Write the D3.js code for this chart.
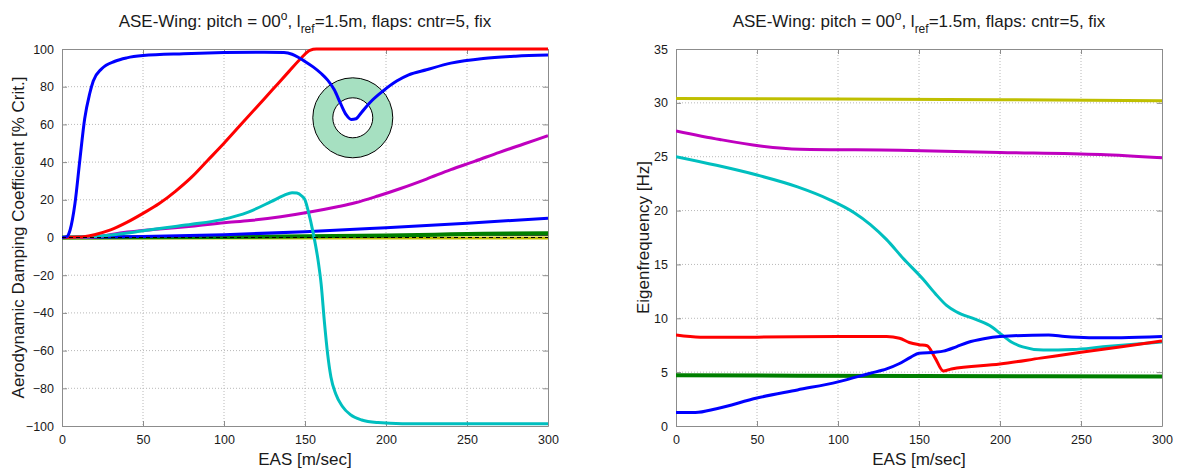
<!DOCTYPE html>
<html>
<head>
<meta charset="utf-8">
<script src="https://cdn.jsdelivr.net/npm/d3@7"></script>
<style>
  html, body { margin: 0; padding: 0; background: #fff; }
  svg { display: block; font-family: "Liberation Sans", Arial, Helvetica, sans-serif; }
</style>
</head>
<body>
<svg id="chart" width="1178" height="469"></svg>
<script>
// ---------------- DATA ----------------
const xTicks = [0, 50, 100, 150, 200, 250, 300];
const dampTicks = [-100, -80, -60, -40, -20, 0, 20, 40, 60, 80, 100];
const freqTicks = [0, 5, 10, 15, 20, 25, 30, 35];

// Left: aerodynamic damping coefficient [% crit.] vs EAS [m/sec]
const dampBlueA = [[0,0],[3,0.5],[5,4],[8,18],[11,41],[14,63],[17,76],[19.3,83],[24.5,89.5],[32.7,93.5],[40,95.3],[50,96.5],[75,97.5],[100,98.1],[125,98.3],[137,98.1],[142,97.2],[146,95.5],[150,93.4],[155,90.5],[160,87],[164,83.5],[168,78.5],[172,71],[175.5,65],[178.5,62.6],[181.5,63],[185,66.5],[190,71.5],[198,77.6],[206.6,83],[214,86.3],[225,89],[240,92.5],[260,95],[280,96.2],[300,96.8]];
const dampGreen = [[0,0],[100,0.3],[200,1],[230,1.5],[260,2],[300,2.2]];
const dampRed = [[0,0],[10,0.2],[20,1.5],[30,4],[40,8],[50,12.8],[60,18],[70,24.5],[80,32],[90,41],[100,50],[110,59.5],[120,69],[130,78.5],[140,88],[148,95.5],[153,99.3],[157,100],[300,100]];
const dampCyan = [[0,0],[20,0.5],[35,1.8],[49,3.4],[65,5.3],[80,7],[98.6,9.5],[115,13.5],[129,19],[137,22.3],[142,23.8],[145,23.6],[148,22],[150,20],[152,14],[155,2.6],[158,-11.7],[160,-25],[162,-45],[164,-62],[166,-74],[169,-83],[173,-89.5],[178,-94],[185,-96.8],[195,-98.2],[210,-98.8],[300,-98.8]];
const dampMagenta = [[0,0],[20,0.3],[37,2.5],[60,4.5],[80,6],[100,7.8],[116,9],[135,11],[153,13.5],[170,16.3],[181,18.4],[195,22],[209,26],[225,31],[240,36],[255,40.5],[270,45.2],[285,49.6],[300,54]];
const dampYellow = [[0,-0.3],[300,-0.3]];
const dampGray = [[0,0],[200,0.5],[240,1.4],[300,1.3]];
const dampBlueB = [[0,0],[50,0.5],[100,1.5],[150,3],[200,5.2],[250,7.6],[300,10.2]];
const dampZero = [[0,0],[300,0]];
const ringCenter = [179.5, 63.5];

// Right: eigenfrequency [Hz] vs EAS [m/sec]
const freqBlue = [[0,1.25],[12,1.25],[25,1.6],[50,2.6],[75,3.35],[100,4.1],[120,4.9],[130,5.3],[138,5.8],[145,6.4],[150,6.75],[160,6.85],[165,6.95],[173,7.35],[180,7.75],[190,8.1],[200,8.3],[230,8.45],[240,8.3],[255,8.2],[275,8.2],[300,8.3]];
const freqGreen = [[0,4.7],[150,4.65],[300,4.6]];
const freqRed = [[0,8.45],[15,8.25],[50,8.25],[100,8.3],[130,8.3],[138,8.15],[144,7.75],[150,7.55],[155,7.45],[160,6.3],[165,5.1],[170,5.3],[200,5.75],[225,6.3],[250,6.85],[275,7.35],[300,7.9]];
const freqCyan = [[0,25],[25,24.2],[50,23.3],[75,22.2],[95,21],[110,19.8],[120,18.7],[130,17.3],[140,15.6],[152.7,13.6],[160,12.3],[167,11.2],[173,10.6],[185,9.9],[195,9.2],[200,8.6],[207,7.8],[214,7.35],[226.7,7.05],[245,7.1],[263.6,7.35],[300,7.8]];
const freqMagenta = [[0,27.4],[27,26.6],[52,26],[76.5,25.7],[138,25.6],[200,25.4],[262,25.2],[300,24.9]];
const freqYellow = [[0,30.4],[100,30.35],[200,30.3],[300,30.2]];

// ---------------- DRAW ----------------
const svg = d3.select("#chart");
const C = { blue: "#0000ff", green: "#007f00", red: "#ff0000", cyan: "#00bfbf", magenta: "#bf00bf", yellow: "#bfbf00", gray: "#404040" };

function panel(opts) {
  const { x0, x1, y0, y1, yDomain, yTicks, yLabel, yLabelX, series } = opts;
  const g = svg.append("g");
  const x = d3.scaleLinear().domain([0, 300]).range([x0, x1]);
  const y = d3.scaleLinear().domain(yDomain).range([y1, y0]);

  // grid
  const grid = g.append("g").attr("stroke", "#b8b8b8").attr("stroke-width", 1).attr("stroke-dasharray", "1,2");
  xTicks.slice(1, -1).forEach(t => grid.append("line").attr("x1", x(t)).attr("x2", x(t)).attr("y1", y0).attr("y2", y1));
  yTicks.slice(1, -1).forEach(t => grid.append("line").attr("x1", x0).attr("x2", x1).attr("y1", y(t)).attr("y2", y(t)));

  // axes (ticks inside, MATLAB style box)
  const axCol = "#8c8c8c";
  const bottom = g.append("g").attr("transform", `translate(0,${y1})`)
    .call(d3.axisBottom(x).tickValues(xTicks).tickSizeInner(-5).tickSizeOuter(0).tickPadding(9).tickFormat(d3.format("d")));
  const top = g.append("g").attr("transform", `translate(0,${y0})`)
    .call(d3.axisTop(x).tickValues(xTicks).tickSizeInner(-5).tickSizeOuter(0).tickFormat(""));
  const left = g.append("g").attr("transform", `translate(${x0},0)`)
    .call(d3.axisLeft(y).tickValues(yTicks).tickSizeInner(-5).tickSizeOuter(0).tickPadding(8).tickFormat(d3.format("d")));
  const right = g.append("g").attr("transform", `translate(${x1},0)`)
    .call(d3.axisRight(y).tickValues(yTicks).tickSizeInner(-5).tickSizeOuter(0).tickFormat(""));
  [bottom, top, left, right].forEach(a => {
    a.select(".domain").attr("stroke", axCol);
    a.selectAll(".tick line").attr("stroke", axCol);
    a.selectAll("text").attr("fill", "#1a1a1a").style("font-size", "12.5px").style("font-family", "Liberation Sans, Arial, sans-serif");
  });

  const clip = "clip" + x0;
  g.append("clipPath").attr("id", clip).append("rect").attr("x", x0).attr("y", y0 - 3).attr("width", x1 - x0).attr("height", y1 - y0 + 6);
  const plot = g.append("g").attr("clip-path", `url(#${clip})`);
  const line = d3.line().x(d => x(d[0])).y(d => y(d[1])).curve(d3.curveMonotoneX);

  series.forEach(s => {
    if (s.ring) {
      const [cx, cy] = s.ring;
      const ring = d3.arc().innerRadius(20).outerRadius(40).startAngle(0).endAngle(2 * Math.PI);
      plot.append("path").attr("d", ring()).attr("transform", `translate(${x(cx)},${y(cy)})`)
        .attr("fill", "#a6e0c1").attr("stroke", "#000").attr("stroke-width", 1).attr("fill-rule", "evenodd");
      return;
    }
    plot.append("path").datum(s.data).attr("d", line)
      .attr("fill", "none").attr("stroke", s.color).attr("stroke-width", s.width || 3)
      .attr("stroke-dasharray", s.dash || null).attr("stroke-linejoin", "round");
  });

  // title
  const title = g.append("text").attr("x", (x0 + x1) / 2).attr("y", 27).attr("text-anchor", "middle")
    .style("font-size", "17px").attr("fill", "#1a1a1a");
  title.append("tspan").text("ASE-Wing: pitch = 00");
  title.append("tspan").text("o").attr("dy", -7).style("font-size", "12px");
  title.append("tspan").text(", l").attr("dy", 7);
  title.append("tspan").text("ref").attr("dy", 6).style("font-size", "12px");
  title.append("tspan").text("=1.5m, flaps: cntr=5, fix").attr("dy", -6);

  g.append("text").attr("x", (x0 + x1) / 2).attr("y", 465).attr("text-anchor", "middle")
    .style("font-size", "17px").attr("fill", "#1a1a1a").text("EAS [m/sec]");
  g.append("text").attr("transform", `translate(${yLabelX},${(y0 + y1) / 2}) rotate(-90)`).attr("text-anchor", "middle")
    .style("font-size", "17px").attr("fill", "#1a1a1a").text(yLabel);
}

panel({
  x0: 62, x1: 548, y0: 49, y1: 426, yDomain: [-100, 100], yTicks: dampTicks,
  yLabel: "Aerodynamic Damping Coefficient [% Crit.]", yLabelX: 24,
  series: [
    { data: dampYellow, color: C.yellow },
    { data: dampGray, color: C.gray, width: 2 },
    { data: dampGreen, color: C.green, width: 4 },
    { data: dampBlueB, color: C.blue },
    { data: dampMagenta, color: C.magenta },
    { data: dampCyan, color: C.cyan },
    { data: dampRed, color: C.red },
    { ring: ringCenter },
    { data: dampBlueA, color: C.blue },
    { data: dampZero, color: "#000", width: 1, dash: "4,3" }
  ]
});

panel({
  x0: 676, x1: 1162, y0: 49, y1: 426, yDomain: [0, 35], yTicks: freqTicks,
  yLabel: "Eigenfrequency [Hz]", yLabelX: 649,
  series: [
    { data: freqYellow, color: C.yellow },
    { data: freqMagenta, color: C.magenta },
    { data: freqGreen, color: C.green, width: 4 },
    { data: freqCyan, color: C.cyan },
    { data: freqRed, color: C.red },
    { data: freqBlue, color: C.blue }
  ]
});
</script>
</body>
</html>
